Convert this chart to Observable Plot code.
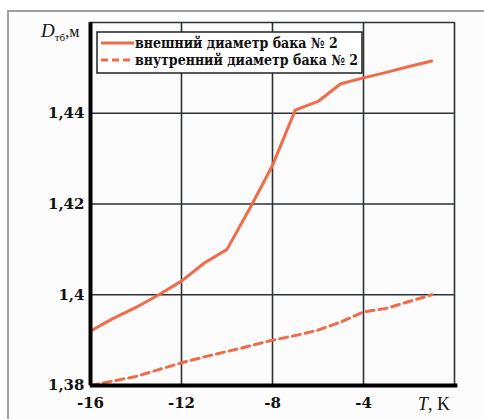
<!DOCTYPE html>
<html><head><meta charset="utf-8">
<script src="https://cdn.jsdelivr.net/npm/d3@7"></script>
<script src="https://cdn.jsdelivr.net/npm/@observablehq/plot@0.6"></script>
<style>body{margin:0;background:#fff}#c{position:relative}</style>
</head><body><div id="c"></div>
<script>
const temps = [-16,-15,-14,-13,-12,-11,-10,-9,-8,-7,-6,-5,-4,-3,-2,-1];
const outerDiam = [1.392,1.3948,1.3972,1.400,1.403,1.407,1.410,1.419,1.4285,1.4407,1.4426,1.4465,1.4478,1.449,1.4503,1.4515];
const innerDiam = [1.380,1.381,1.382,1.3835,1.385,1.3863,1.3875,1.3887,1.390,1.391,1.3922,1.394,1.3962,1.397,1.3985,1.400];
const seriesNames = ["внешний диаметр бака № 2","внутренний диаметр бака № 2"];
const xTicks = [-16,-12,-8,-4];
const xGrid = [-16,-12,-8,-4,0];
const yTicks = [1.38,1.40,1.42,1.44];
const yLabels = ["1,38","1,4","1,42","1,44"];
const yGrid = [1.38,1.40,1.42,1.44,1.46];

const color = "#f26a48";
const serif = "'DejaVu Serif', serif";
const outerData = temps.map((t,i)=>({t, d: outerDiam[i]}));
const innerData = temps.map((t,i)=>({t, d: innerDiam[i]}));

const plot = Plot.plot({
  width: 484, height: 419,
  marginLeft: 90, marginRight: 30, marginTop: 22, marginBottom: 34,
  style: {fontFamily: serif, fontWeight: "bold", fontSize: "15px", background: "transparent", color: "#111"},
  x: {domain: [-16, 0]},
  y: {domain: [1.38, 1.46]},
  marks: [
    Plot.ruleX(xGrid, {stroke: "#2d3236", strokeWidth: 1.6}),
    Plot.ruleY(yGrid, {stroke: "#2d3236", strokeWidth: 1.6}),
    Plot.line(outerData, {x: "t", y: "d", stroke: color, strokeWidth: 3}),
    Plot.line(innerData, {x: "t", y: "d", stroke: color, strokeWidth: 3, strokeDasharray: "8,5"}),
    Plot.ruleX([-16], {stroke: "#000", strokeWidth: 4}),
    Plot.ruleY([1.38], {stroke: "#000", strokeWidth: 4, x1: -16, x2: 0.15}),
    Plot.axisX({ticks: xTicks, tickSize: 0, tickPadding: 12, label: null, tickFormat: d => String(d)}),
    Plot.axisY({ticks: yTicks, tickSize: 0, tickPadding: 6, label: null, tickFormat: (d,i) => yLabels[i]})
  ]
});
document.getElementById("c").appendChild(plot);

const svg = d3.select(plot);
const xs = plot.scale("x");
svg.insert("rect", ":first-child").attr("x", 8).attr("y", 11).attr("width", 520).attr("height", 430)
  .attr("fill", "#fcfcfd").attr("stroke", "#a0a0a0").attr("stroke-width", 2);

const tl = svg.append("text").attr("x", xs.apply(0) - 4).attr("y", 410).attr("text-anchor", "end")
  .attr("font-size", 18).attr("font-weight", "normal").attr("fill", "#111").attr("class", "ser");
tl.append("tspan").attr("font-style", "italic").text("T");
tl.append("tspan").text(", K");

const yl = svg.append("text").attr("x", 41).attr("y", 37).attr("text-anchor", "start").attr("font-weight", "normal").attr("fill", "#111").attr("class", "ser");
yl.append("tspan").attr("font-style", "italic").attr("font-size", 19).text("D");
yl.append("tspan").attr("font-size", 11).attr("dy", 4).text("тб");
yl.append("tspan").attr("font-size", 16).attr("dy", -4).text(",м");

const lg = svg.append("g");
lg.append("rect").attr("x", 97).attr("y", 32).attr("width", 265).attr("height", 41)
  .attr("fill", "#fff").attr("stroke", "#222").attr("stroke-width", 1.5);
[0,1].forEach(i => {
  const y = 43 + i*17;
  lg.append("line").attr("x1", 101).attr("x2", 134).attr("y1", y).attr("y2", y)
    .attr("stroke", color).attr("stroke-width", 3).attr("stroke-dasharray", i ? "7,4" : null);
  lg.append("text").attr("x", 135).attr("y", y + 5).attr("font-size", 14).attr("text-anchor", "start")
    .attr("font-weight", "bold").attr("fill", "#111").attr("class", "leg").text(seriesNames[i]);
});
svg.selectAll("text").style("font-family", serif);
svg.selectAll("text.ser").style("font-family", "'Liberation Serif', serif");
svg.selectAll("text.leg").style("font-family", "'DejaVu Serif Condensed', 'DejaVu Serif', serif");
</script>
</body></html>
